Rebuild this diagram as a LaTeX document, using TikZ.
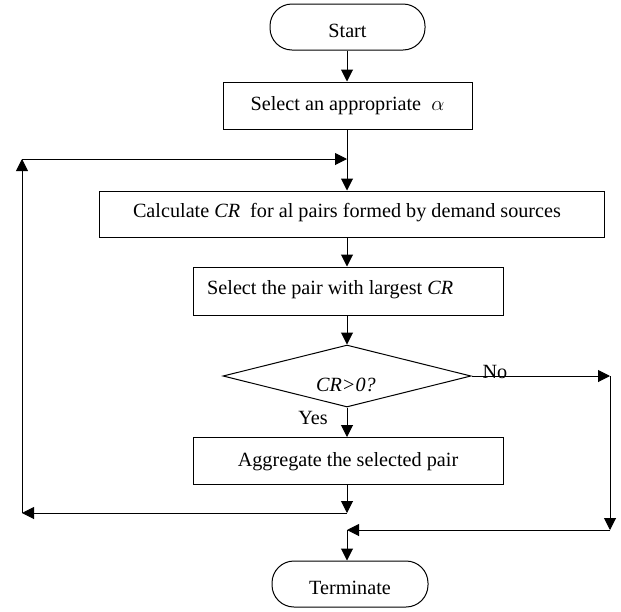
\documentclass[tikz,border=0pt]{standalone}
\usepackage{fontspec}
\setmainfont{Liberation Serif}
\usetikzlibrary{arrows.meta,shapes.geometric}
\begin{document}
\begin{tikzpicture}[x=1pt,y=-1pt,
  every node/.style={font=\fontsize{20.2}{24}\selectfont, inner sep=0pt},
  box/.style={draw, line width=1pt, rectangle},
  term/.style={draw, line width=1pt, rectangle, rounded corners=22pt, minimum width=155pt, minimum height=46pt},
  dia/.style={draw, line width=1pt, diamond, minimum width=248pt, minimum height=62pt},
  arr/.style={line width=1pt, -{Triangle[length=12pt,width=12pt]}},
  ln/.style={line width=1pt}]
\useasboundingbox (0,0) rectangle (621,611);

\node[term] (start) at (347.5,27) {};
\node (startt) at (347.5,31) {Start};
\node[box, minimum width=249pt, minimum height=47pt] (alpha) at (347.5,105.5) {};
\node (alphat) at (347.5,106) {Select an appropriate \ $\alpha$};
\node[box, minimum width=505pt, minimum height=46pt] (calc) at (351.5,214) {};
\node (calct) at (347,213) {Calculate \textit{CR} \ for al pairs formed by demand sources};
\node[box, minimum width=310pt, minimum height=48pt] (sel) at (348,291) {};
\node[anchor=west] (selt) at (207,290) {Select the pair with largest \textit{CR}};
\node[dia] (dec) at (347,376) {};
\node (dect) at (346,385) {\textit{CR>0?}};
\node[box, minimum width=310pt, minimum height=47pt] (agg) at (348,461) {};
\node (aggt) at (348,462) {Aggregate the selected pair};
\node[term, minimum width=156pt] (term) at (350,584) {};
\node (termt) at (350,588) {Terminate};

\node (no) at (495,372) {No};
\node (yes) at (313,418) {Yes};

\coordinate (J1) at (347,159);
\coordinate (J2) at (347,513);
\coordinate (L1) at (22,513);
\coordinate (L2) at (22,159);
\coordinate (R1) at (610,376);
\coordinate (R2) at (610,530);
\coordinate (J3) at (347,530);

\draw[arr] (start.south -| J1) -- (alpha.north -| J1);
\draw[arr] (alpha.south -| J1) -- (calc.north -| J1);
\draw[arr] (calc.south -| J1) -- (sel.north -| J1);
\draw[arr] (sel.south -| J1) -- (dec.north);
\draw[arr] (dec.south) -- (agg.north -| J1);
\draw[arr] (agg.south -| J1) -- (J2);
\draw[arr] (J2) -- (L1);
\draw[arr] (L1) -- (L2);
\draw[arr] (L2) -- (J1);
\draw[arr] (dec.east) -- (R1);
\draw[arr] (R1) -- (R2);
\draw[arr] (R2) -- (J3);
\draw[arr] (J3) -- (term.north -| J3);
\end{tikzpicture}
\end{document}
